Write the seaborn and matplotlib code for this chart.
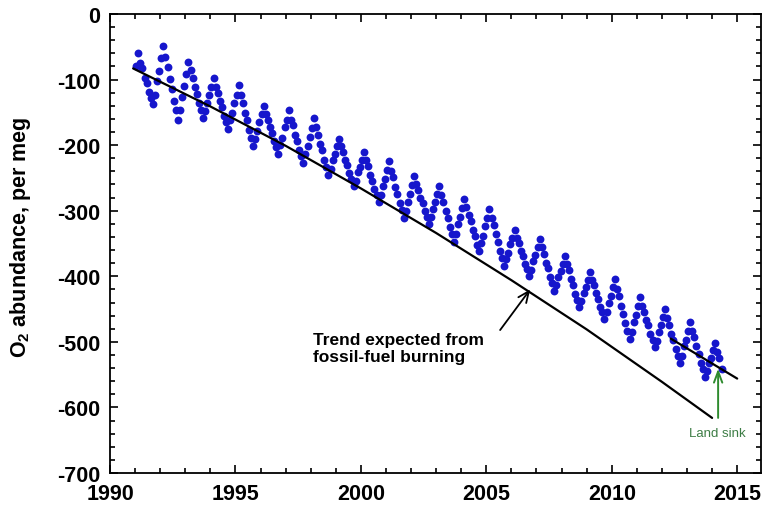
import numpy as np
import pandas as pd
import matplotlib
matplotlib.use("Agg")
import matplotlib.pyplot as plt
from matplotlib.ticker import MultipleLocator
import seaborn as sns

# Monthly O2 abundance (per meg), January .. December of each year
o2_1991 = [-80, -60, -74, -83, -97, -105, -119, -128, -138, -123, -102, -87]
o2_1992 = [-67, -49, -66, -81, -99, -114, -132, -147, -162, -146, -127, -110]
o2_1993 = [-91, -73, -86, -97, -111, -122, -136, -147, -159, -148, -135, -124]
o2_1994 = [-111, -98, -111, -120, -133, -142, -155, -164, -175, -162, -151, -135]
o2_1995 = [-123, -109, -124, -136, -151, -162, -177, -189, -201, -190, -179, -165]
o2_1996 = [-153, -140, -152, -161, -173, -182, -194, -203, -213, -200, -189, -173]
o2_1997 = [-161, -147, -161, -170, -184, -193, -207, -216, -228, -214, -202, -187]
o2_1998 = [-174, -159, -173, -184, -198, -208, -222, -233, -245, -236, -223, -214]
o2_1999 = [-202, -190, -202, -211, -223, -231, -243, -252, -262, -254, -241, -233]
o2_2000 = [-222, -210, -223, -232, -245, -254, -267, -276, -287, -276, -262, -251]
o2_2001 = [-238, -224, -239, -249, -264, -274, -289, -299, -311, -301, -286, -275]
o2_2002 = [-261, -247, -259, -268, -280, -289, -301, -310, -320, -310, -297, -287]
o2_2003 = [-275, -262, -276, -286, -300, -311, -325, -335, -347, -336, -321, -310]
o2_2004 = [-296, -282, -295, -307, -316, -330, -339, -353, -362, -349, -338, -323]
o2_2005 = [-311, -297, -311, -322, -336, -347, -361, -372, -384, -373, -364, -351]
o2_2006 = [-341, -329, -341, -349, -361, -369, -381, -389, -399, -390, -377, -367]
o2_2007 = [-355, -343, -356, -366, -379, -388, -401, -411, -422, -413, -401, -392]
o2_2008 = [-381, -369, -382, -391, -404, -413, -427, -436, -447, -438, -426, -417]
o2_2009 = [-406, -394, -406, -414, -426, -435, -447, -455, -465, -455, -441, -430]
o2_2010 = [-417, -404, -419, -430, -445, -457, -472, -483, -496, -485, -470, -459]
o2_2011 = [-446, -432, -445, -454, -467, -475, -488, -497, -508, -498, -485, -475]
o2_2012 = [-462, -450, -464, -474, -488, -497, -511, -521, -533, -522, -507, -497]
o2_2013 = [-483, -469, -483, -493, -507, -518, -532, -542, -554, -545, -533, -524]
o2_2014 = [-513, -501, -515, -525, -541]

# Trend expected from fossil-fuel burning
trend_years = [1990.92, 1994.0, 1997.0, 2000.0, 2003.0, 2006.0, 2009.0, 2012.0, 2014.0]
trend_values = [-83, -141, -201, -266, -334, -406, -481, -561, -616]

# Recent trend through the observations
obs_trend_years = [2012.35, 2015.0]
obs_trend_values = [-495, -556]

yearly = {
    1991: o2_1991, 1992: o2_1992, 1993: o2_1993, 1994: o2_1994, 1995: o2_1995,
    1996: o2_1996, 1997: o2_1997, 1998: o2_1998, 1999: o2_1999, 2000: o2_2000,
    2001: o2_2001, 2002: o2_2002, 2003: o2_2003, 2004: o2_2004, 2005: o2_2005,
    2006: o2_2006, 2007: o2_2007, 2008: o2_2008, 2009: o2_2009, 2010: o2_2010,
    2011: o2_2011, 2012: o2_2012, 2013: o2_2013, 2014: o2_2014,
}
rows = []
for yr, vals in yearly.items():
    for m, v in enumerate(vals):
        rows.append({"time": yr + (m + 0.5) / 12.0, "o2": v})
obs = pd.DataFrame(rows)
trend = pd.DataFrame({"time": trend_years, "o2": trend_values})
obs_trend = pd.DataFrame({"time": obs_trend_years, "o2": obs_trend_values})

sns.set_style("ticks")
plt.rcParams["font.family"] = ["Liberation Sans", "DejaVu Sans"]
plt.rcParams["axes.unicode_minus"] = False
plt.rcParams["mathtext.fontset"] = "custom"
plt.rcParams["mathtext.rm"] = "Liberation Sans"
plt.rcParams["mathtext.bf"] = "Liberation Sans:bold"
plt.rcParams["text.color"] = "black"
plt.rcParams["axes.labelcolor"] = "black"
plt.rcParams["xtick.color"] = "black"
plt.rcParams["ytick.color"] = "black"

fig = plt.figure(figsize=(7.63, 5.10), dpi=100)
ax = fig.add_axes([0.1442, 0.0706, 0.8532, 0.900])

sns.scatterplot(data=obs, x="time", y="o2", ax=ax, color="#1616cc",
                s=32, linewidth=0, zorder=3, legend=False)
sns.lineplot(data=trend, x="time", y="o2", ax=ax, color="black",
             linewidth=1.6, zorder=4, estimator=None, sort=False)
sns.lineplot(data=obs_trend, x="time", y="o2", ax=ax, color="black",
             linewidth=1.6, zorder=4, estimator=None, sort=False)

ax.set_xlim(1990, 2015.95)
ax.set_ylim(-700, 0)
ax.xaxis.set_major_locator(MultipleLocator(5))
ax.xaxis.set_minor_locator(MultipleLocator(1))
ax.yaxis.set_major_locator(MultipleLocator(100))
ax.yaxis.set_minor_locator(MultipleLocator(20))
ax.tick_params(which="both", direction="in", top=True, right=True,
               color="black", labelcolor="black", width=1.2)
ax.tick_params(which="major", length=6, labelsize=15.5, pad=7)
ax.tick_params(which="minor", length=3.5)
for lab in ax.get_xticklabels() + ax.get_yticklabels():
    lab.set_fontweight("bold")
for sp in ax.spines.values():
    sp.set_linewidth(1.3)
    sp.set_color("black")

ax.set_xlabel("")
ax.set_ylabel(r"O$_\mathbf{2}$ abundance, per meg", fontsize=15.5,
              fontweight="bold", color="black")
ax.yaxis.set_label_coords(-0.118, 0.515)

ax.annotate("Trend expected from\nfossil-fuel burning",
            xy=(2006.75, -420), xytext=(1998.1, -509),
            fontsize=12.5, fontweight="bold", ha="left", va="center",
            color="black", zorder=5)
ax.annotate("", xy=(2006.75, -420), xytext=(2005.55, -482),
            arrowprops=dict(arrowstyle="->,head_length=0.8,head_width=0.35",
                            color="black", lw=1.3, shrinkA=0, shrinkB=0),
            zorder=5)

ax.annotate("", xy=(2014.24, -541), xytext=(2014.24, -616),
            arrowprops=dict(arrowstyle="->,head_length=0.8,head_width=0.3",
                            color="#2e8b2e", lw=1.4, shrinkA=0, shrinkB=0),
            zorder=5)
ax.text(2014.2, -639, "Land sink", color="#3d7d45", fontsize=9.5,
        ha="center", va="center", zorder=5)

fig.savefig("out.png", dpi=100, facecolor="white")
